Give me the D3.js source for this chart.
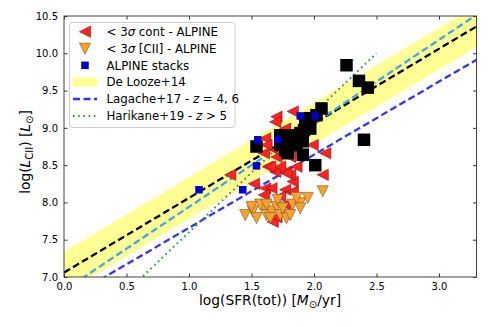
<!DOCTYPE html>
<html>
<head>
<meta charset="utf-8">
<script src="https://cdn.jsdelivr.net/npm/d3@7"></script>
<style>
  body { margin: 0; background: #fff; }
  text { font-family: "DejaVu Sans", sans-serif; }
</style>
</head>
<body>
<svg id="chart" width="491" height="327"></svg>
<script>
// ---- data ----
// < 3 sigma continuum (red, left triangles)
const redX = [1.33, 1.52, 1.61, 1.66, 1.60, 1.77, 1.83, 1.83, 1.73, 1.77, 1.67, 2.07, 1.69, 1.77, 1.81,
              1.70, 1.83, 1.69, 1.61, 1.62, 1.60, 1.69, 1.70, 1.99, 2.09, 1.63, 1.73, 1.81, 1.77, 1.75,
              1.86, 1.81, 1.78, 1.65, 1.70];
const redY = [8.37, 8.25, 8.19, 8.19, 8.10, 8.17, 8.15, 8.28, 8.08, 7.97, 7.74, 8.37, 8.41, 8.41, 8.37,
              9.15, 9.22, 9.08, 8.86, 8.77, 8.66, 8.70, 8.61, 8.77, 8.66, 8.48, 8.48, 8.73, 8.99, 8.84,
              8.48, 8.61, 8.39, 8.48, 7.80];
// < 3 sigma [CII] (orange, down triangles)
const orangeX = [1.45, 1.51, 1.54, 1.60, 1.62, 1.66, 1.70, 1.73, 1.78, 1.81, 1.83, 1.89, 1.95, 1.89,
                 2.07, 1.71, 1.57, 1.50, 1.75, 1.65, 1.86, 1.62];
const orangeY = [7.83, 7.88, 7.79, 7.92, 7.83, 7.88, 7.94, 7.83, 7.79, 7.83, 7.97, 7.99, 8.06, 7.92,
                 8.15, 8.03, 7.97, 7.94, 7.92, 7.79, 8.06, 7.97];
// ALPINE stacks (blue squares)
const blueX = [1.08, 1.43, 1.54, 1.55, 1.71, 1.89, 2.01];
const blueY = [8.17, 8.17, 8.49, 8.84, 8.84, 9.16, 9.16];
// detections (black squares)
const blackX = [2.26, 2.36, 2.43, 2.40, 2.06, 2.02, 1.93, 1.92, 1.97, 1.73, 1.81, 1.89, 1.86, 1.79,
                1.91, 1.54, 2.01, 1.73, 1.97, 1.91, 1.83, 1.77];
const blackY = [9.84, 9.63, 9.54, 8.84, 9.26, 9.17, 9.11, 8.97, 9.13, 8.90, 8.90, 8.93, 8.77, 8.66,
                8.64, 8.75, 8.50, 8.77, 8.99, 8.82, 8.85, 8.70];

// relations, as end points
const deLoozeX = [0, 3.3];
const deLoozeY = [7.06, 10.36];
const deLoozeLo = [6.78, 10.08];
const deLoozeHi = [7.34, 10.64];
const lagache4X = [0, 3.3];
const lagache4Y = [6.82, 10.516];
const lagache6X = [0, 3.3];
const lagache6Y = [6.68, 9.914];
const harikaneX = [0, 2.5];
const harikaneY = [6.0, 10.0];

const xTicks = [0.0, 0.5, 1.0, 1.5, 2.0, 2.5, 3.0];
const yTicks = [7.0, 7.5, 8.0, 8.5, 9.0, 9.5, 10.0, 10.5];

// ---- layout ----
const svg = d3.select('#chart');
const mLeft = 64, mRight = 476.5, mTop = 16, mBottom = 277;

const x = d3.scaleLinear().domain([0, 3.3]).range([mLeft, mRight]);
const y = d3.scaleLinear().domain([7, 10.5]).range([mBottom, mTop]);

svg.append('defs').append('clipPath').attr('id', 'clip')
    .append('rect').attr('x', mLeft).attr('y', mTop)
    .attr('width', mRight - mLeft).attr('height', mBottom - mTop);

const plot = svg.append('g').attr('clip-path', 'url(#clip)');

// De Looze band
const band = d3.area()
    .x((d, i) => x(deLoozeX[i]))
    .y0((d, i) => y(deLoozeLo[i]))
    .y1((d, i) => y(deLoozeHi[i]));
plot.append('path').datum(deLoozeX).attr('d', band)
    .attr('fill', '#ffff70').attr('opacity', 0.75);

function rel(xs, ys, color, dash, w) {
  const line = d3.line().x(d => x(d[0])).y(d => y(d[1]));
  plot.append('path').datum(d3.zip(xs, ys)).attr('d', line)
      .attr('fill', 'none').attr('stroke', color)
      .attr('stroke-width', w).attr('stroke-dasharray', dash);
}
rel(deLoozeX, deLoozeY, '#000', '7,3.5', 2.3);
rel(lagache4X, lagache4Y, '#3ea6ec', '7,3.5', 2.3);
rel(lagache6X, lagache6Y, '#3333ff', '7,3.5', 2.3);
rel(harikaneX, harikaneY, '#2a9a2a', '1.6,3.6', 2);

// markers
const r = 5.6;
const triLeft = `M${-r},0L${r},${-r}L${r},${r}Z`;
const triDown = `M0,${r}L${-r},${-r}L${r},${-r}Z`;

plot.append('g').selectAll('path').data(d3.zip(redX, redY)).join('path')
    .attr('d', triLeft)
    .attr('transform', d => `translate(${x(d[0])},${y(d[1])})`)
    .attr('fill', '#ff2222').attr('stroke', '#8a1010').attr('stroke-width', 0.6);

plot.append('g').selectAll('path').data(d3.zip(orangeX, orangeY)).join('path')
    .attr('d', triDown)
    .attr('transform', d => `translate(${x(d[0])},${y(d[1])})`)
    .attr('fill', '#f7a22c').attr('stroke', '#7a5a30').attr('stroke-width', 0.6);

const bs = 12.5;
plot.append('g').selectAll('rect').data(d3.zip(blackX, blackY)).join('rect')
    .attr('x', d => x(d[0]) - bs / 2).attr('y', d => y(d[1]) - bs / 2)
    .attr('width', bs).attr('height', bs).attr('fill', '#000');

const ss = 7.5;
plot.append('g').selectAll('rect').data(d3.zip(blueX, blueY)).join('rect')
    .attr('x', d => x(d[0]) - ss / 2).attr('y', d => y(d[1]) - ss / 2)
    .attr('width', ss).attr('height', ss).attr('fill', '#0000cc');

// ---- axes (ticks inward on all sides) ----
const tk = 3.5;
function styleAxis(g) {
  g.select('.domain').remove();
  g.selectAll('.tick line').attr('stroke', '#333');
  g.selectAll('.tick text').attr('font-size', 10).attr('fill', '#000');
}
svg.append('g').attr('transform', `translate(0,${mBottom})`)
    .call(d3.axisBottom(x).tickValues(xTicks).tickFormat(d3.format('.1f')).tickSizeInner(-tk).tickPadding(6))
    .call(styleAxis);
svg.append('g').attr('transform', `translate(0,${mTop})`)
    .call(d3.axisTop(x).tickValues(xTicks).tickFormat('').tickSizeInner(-tk))
    .call(styleAxis);
svg.append('g').attr('transform', `translate(${mLeft},0)`)
    .call(d3.axisLeft(y).tickValues(yTicks).tickFormat(d3.format('.1f')).tickSizeInner(-tk).tickPadding(6))
    .call(styleAxis);
svg.append('g').attr('transform', `translate(${mRight},0)`)
    .call(d3.axisRight(y).tickValues(yTicks).tickFormat('').tickSizeInner(-tk))
    .call(styleAxis);

svg.append('rect').attr('x', mLeft).attr('y', mTop)
    .attr('width', mRight - mLeft).attr('height', mBottom - mTop)
    .attr('fill', 'none').attr('stroke', '#444').attr('stroke-width', 1);

// axis titles
const xl = svg.append('text').attr('x', 270).attr('y', 305)
    .attr('text-anchor', 'middle').attr('font-size', 13.8);
xl.append('tspan').text('log(SFR(tot)) [');
xl.append('tspan').attr('font-style', 'italic').text('M');
xl.append('tspan').attr('font-size', 10).attr('dy', 2.8).text('⊙');
xl.append('tspan').attr('dy', -2.8).text('/yr]');

const yl = svg.append('text')
    .attr('transform', `translate(30,152) rotate(-90)`)
    .attr('text-anchor', 'middle').attr('font-size', 13.8);
yl.append('tspan').text('log(');
yl.append('tspan').attr('font-style', 'italic').text('L');
yl.append('tspan').attr('font-size', 10).attr('dy', 2.8).text('CII');
yl.append('tspan').attr('dy', -2.8).text(') [');
yl.append('tspan').attr('font-style', 'italic').text('L');
yl.append('tspan').attr('font-size', 10).attr('dy', 2.8).text('⊙');
yl.append('tspan').attr('dy', -2.8).text(']');

// ---- legend ----
const lg = svg.append('g');
lg.append('rect').attr('x', 69.5).attr('y', 22.5).attr('width', 165.5).attr('height', 105)
    .attr('rx', 3).attr('fill', '#fff').attr('fill-opacity', 0.85)
    .attr('stroke', '#ccc').attr('stroke-width', 1);

const rowY = [31.7, 48.7, 65.3, 82, 99, 116];
const mx = 85, tx = 106.5;
lg.append('path').attr('d', triLeft).attr('transform', `translate(${mx},${rowY[0]})`)
    .attr('fill', '#ff2222').attr('stroke', '#8a1010').attr('stroke-width', 0.6);
lg.append('path').attr('d', triDown).attr('transform', `translate(${mx},${rowY[1]})`)
    .attr('fill', '#f7a22c').attr('stroke', '#7a5a30').attr('stroke-width', 0.6);
lg.append('rect').attr('x', mx - ss / 2).attr('y', rowY[2] - ss / 2)
    .attr('width', ss).attr('height', ss).attr('fill', '#0000cc');
lg.append('rect').attr('x', mx - 12).attr('y', rowY[3] - 4.5).attr('width', 24).attr('height', 9)
    .attr('fill', '#ffff70').attr('opacity', 0.75);
lg.append('line').attr('x1', mx - 12).attr('x2', mx + 12).attr('y1', rowY[4]).attr('y2', rowY[4])
    .attr('stroke', '#3333ff').attr('stroke-width', 2.3).attr('stroke-dasharray', '7,3.5');
lg.append('line').attr('x1', mx - 12).attr('x2', mx + 12).attr('y1', rowY[5]).attr('y2', rowY[5])
    .attr('stroke', '#2a9a2a').attr('stroke-width', 2).attr('stroke-dasharray', '1.6,3.6');

function label(i) {
  return lg.append('text').attr('x', tx).attr('y', rowY[i] + 4.2).attr('font-size', 11.8);
}
let t = label(0);
t.append('tspan').text('< 3');
t.append('tspan').attr('font-style', 'italic').text('σ');
t.append('tspan').text(' cont - ALPINE');
t = label(1);
t.append('tspan').text('< 3');
t.append('tspan').attr('font-style', 'italic').text('σ');
t.append('tspan').text(' [CII] - ALPINE');
label(2).text('ALPINE stacks');
label(3).text('De Looze+14');
t = label(4);
t.append('tspan').text('Lagache+17 - ');
t.append('tspan').attr('font-style', 'italic').text('z');
t.append('tspan').text(' = 4, 6');
t = label(5);
t.append('tspan').text('Harikane+19 - ');
t.append('tspan').attr('font-style', 'italic').text('z');
t.append('tspan').text(' > 5');
</script>
</body>
</html>
